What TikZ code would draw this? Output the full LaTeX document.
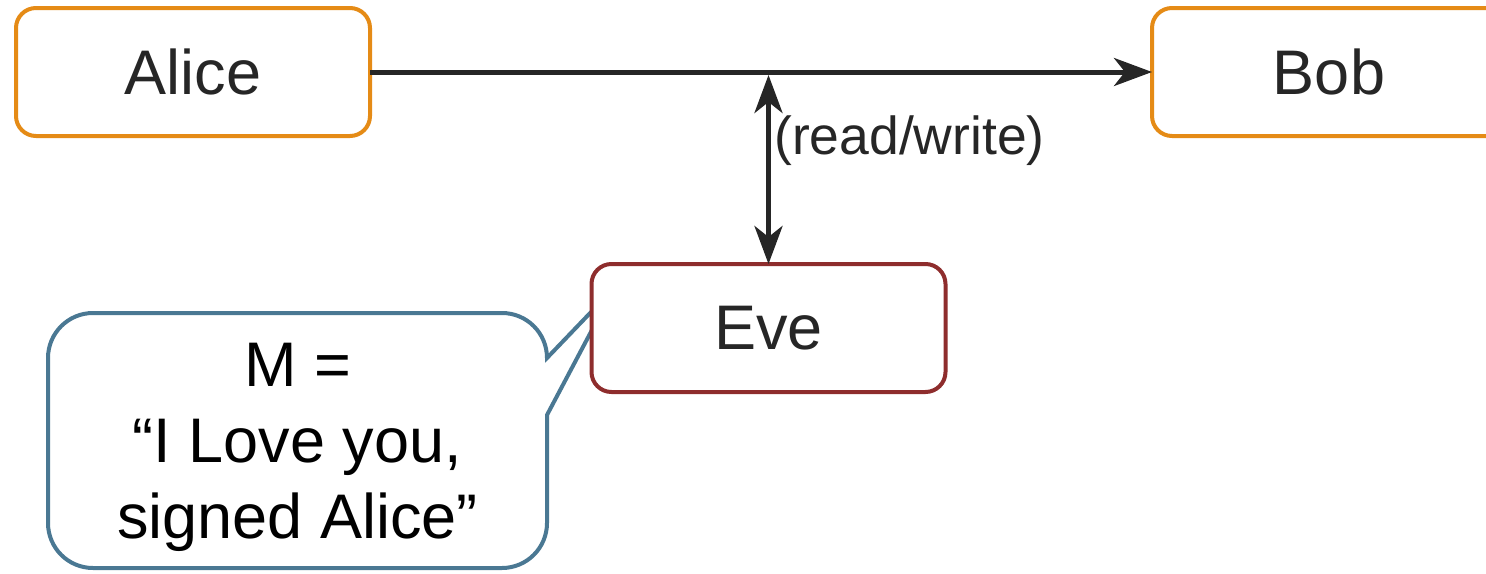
\documentclass[tikz,border=0pt]{standalone}
\usepackage{fontspec}
\setmainfont{Liberation Sans}
\usetikzlibrary{arrows.meta}
\definecolor{boxorange}{HTML}{E58B16}
\definecolor{evered}{HTML}{8E2D2D}
\definecolor{callblue}{HTML}{4A7893}
\definecolor{ink}{HTML}{262626}
\tikzset{
  party/.style={draw=boxorange, line width=4pt, rounded corners=20pt, fill=white,
    minimum width=354pt, minimum height=128pt, inner sep=0pt, outer sep=0pt,
    text=ink, font=\fontsize{63}{76}\selectfont},
  spy/.style={party, draw=evered},
  conn/.style={draw=ink, line width=5pt, -{Stealth[length=38pt, width=28pt, inset=11pt]}},
  bidir/.style={draw=ink, line width=5pt, {Stealth[length=38pt, width=28pt, inset=11pt]}-{Stealth[length=38pt, width=28pt, inset=11pt]}},
  lbl/.style={text=ink, inner sep=0pt, font=\fontsize{53.5}{62}\selectfont},
  bubble/.style={draw=callblue, line width=4pt, fill=white, line join=miter},
  msgtext/.style={align=center, inner sep=0pt, text=black, font=\fontsize{63}{76}\selectfont}
}
\begin{document}
\begin{tikzpicture}[x=1pt, y=-1pt]
\useasboundingbox (0,0) rectangle (1486,573);
\begin{scope}
\clip (0,0) rectangle (1486,573);
\coordinate (tipA) at (593,310);
\coordinate (tipB) at (593,328);
\draw[bubble] (547,358) -- (tipA) -- (tipB) -- (547,415) -- (547,523)
  arc[start angle=0, end angle=90, radius=45] -- (93,568)
  arc[start angle=90, end angle=180, radius=45] -- (48,358)
  arc[start angle=180, end angle=270, radius=45] -- (502,313)
  arc[start angle=270, end angle=360, radius=45] -- cycle;
\node[party] (alice) at (193,72) {Alice};
\node[party] (bob) at (1329,72) {Bob};
\node[spy] (eve) at (768.5,328) {Eve};
\node[msgtext] (msg) at (297.5,447) {M =\\“I Love you,\\signed Alice”};
\draw[conn] (alice.east) -- (bob.west);
\coordinate (mid) at (eve.north |- alice.east);
\draw[bidir] ([yshift=-3pt]mid) -- (eve.north);
\node[lbl, anchor=west] (rw) at (774,141) {(read/write)};
\end{scope}
\end{tikzpicture}
\end{document}
